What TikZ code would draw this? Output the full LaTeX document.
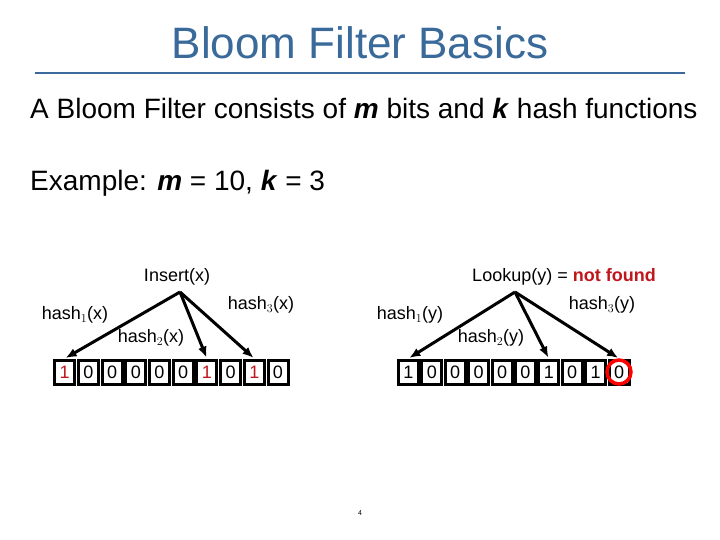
\documentclass[tikz,border=0pt]{standalone}
\usepackage{fontspec}
\setmainfont{Liberation Sans}
\usetikzlibrary{arrows.meta}
\definecolor{ttl}{HTML}{3A6A9A}
\definecolor{bitred}{HTML}{C0171C}
\begin{document}
\begin{tikzpicture}[x=1pt,y=-1pt,
  cell/.style={draw=black,line width=3pt,minimum width=20pt,minimum height=24pt,inner sep=0pt,font=\fontsize{18}{18}\selectfont},
  lbl/.style={font=\fontsize{18}{20}\selectfont,inner sep=1pt},
  arr/.style={-{Latex[length=11pt,width=9pt]},line width=3pt,shorten >=1pt}]
\useasboundingbox[fill=white] (0,0) rectangle (720,540);
\node[text=ttl,font=\fontsize{44}{48}\selectfont] (title) at (360,43) {Bloom Filter Basics};
\draw[ttl,line width=2.5pt] (35,73) coordinate (l1) -- (685,73) coordinate (l2);
\node[anchor=west,font=\fontsize{28}{32}\selectfont,inner sep=0pt] (t1) at (30,108) {A Bloom Filter consists of \textbf{\textit{m}} bits and \textbf{\textit{k}} hash functions};
\node[anchor=west,font=\fontsize{28}{32}\selectfont,inner sep=0pt] (t2) at (30,183) {Example: \textbf{\textit{m}} = 10, \textbf{\textit{k}} = 3};
% left
\foreach \i/\b in {1/1,2/0,3/0,4/0,5/0,6/0,7/1,8/0,9/1,10/0}{
  \ifnum\b=1 \node[cell,text=bitred] (a\i) at ({41+23.7*\i},372) {\b};
  \else \node[cell] (a\i) at ({41+23.7*\i},372) {\b};\fi }
\node[lbl] (ins) at (177,277) {Insert(x)};
\coordinate (ap) at (180,292);
\node[lbl] (h1x) at (75,315) {hash$_1$(x)};
\node[lbl] (h2x) at (151,338) {hash$_2$(x)};
\node[lbl] (h3x) at (261,305) {hash$_3$(x)};
\draw[arr] (ap) -- (a1.north);
\draw[arr] (ap) -- (a7.north);
\draw[arr] (ap) -- (a9.north);
% right
\foreach \i in {1,...,10}{\pgfmathtruncatemacro\b{(\i==1||\i==7||\i==9)?1:0}
  \node[cell] (b\i) at ({385+23.4*\i},372) {\b};}
\node[lbl] (look) at (564,277) {Lookup(y) = \textbf{\textcolor{bitred}{not found}}};
\coordinate (bp) at (515,292);
\node[lbl] (h1y) at (410,315) {hash$_1$(y)};
\node[lbl] (h2y) at (491,338) {hash$_2$(y)};
\node[lbl] (h3y) at (602,305) {hash$_3$(y)};
\draw[arr] (bp) -- (b1.north);
\draw[arr] (bp) -- (b7.north);
\draw[arr] (bp) -- (b10.north);
\draw[red,line width=3.5pt] (b10) circle (12);
\node[font=\fontsize{7}{7}\selectfont] (pg) at (360,513) {4};
\end{tikzpicture}
\end{document}
